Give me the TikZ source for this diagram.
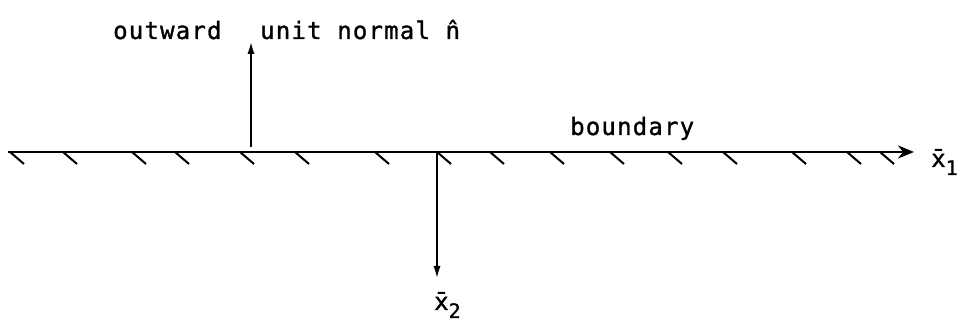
\documentclass[tikz,border=0pt]{standalone}
\usepackage{fontspec}
\setmainfont{DejaVu Sans Mono}[LetterSpace=5,FakeBold=1.2]
\usetikzlibrary{arrows.meta}
\begin{document}
\begin{tikzpicture}[x=1pt,y=1pt,
  lbl/.style={inner sep=0pt,font=\fontsize{24}{28}\selectfont},
  hatch/.style={line width=2pt},
  upar/.style={line width=2.6pt,-{Latex[length=14pt,width=7pt]}},
  rtar/.style={line width=2.6pt,-{Stealth[length=16pt,width=13pt,inset=5pt]}}]
\useasboundingbox (0,0) rectangle (964,326);
% main boundary line
\coordinate (L) at (8,174);
\coordinate (R) at (914,174);
\draw[rtar] (L) -- (R);
% hatching
\foreach \hx in {10,63,132,175,240,295,375,437,490,550,610,668,723,792,847,880}{
  \draw[hatch] (\hx,174) -- ++(14,-12);
}
% outward normal
\coordinate (nb) at (251,179);
\coordinate (nt) at (251,286);
\draw[upar] (nb) -- (nt);
% x2 axis
\coordinate (db) at (437,174);
\coordinate (dt) at (437,46);
\draw[upar] (db) -- (dt);
% labels
\node[lbl,anchor=base west] (out) at (113,287) {outward};
\node[lbl,anchor=base west] (unit) at (260,287) {unit normal \^{n}};
\node[lbl,anchor=base west] (bd) at (570,191) {boundary};
\node[lbl,anchor=base west] (x1) at (931,159) {\={x}\raisebox{-8pt}{\fontsize{20}{24}\selectfont 1}};
\node[lbl,anchor=base west] (x2) at (434,16) {\={x}\raisebox{-8pt}{\fontsize{20}{24}\selectfont 2}};
\end{tikzpicture}
\end{document}
